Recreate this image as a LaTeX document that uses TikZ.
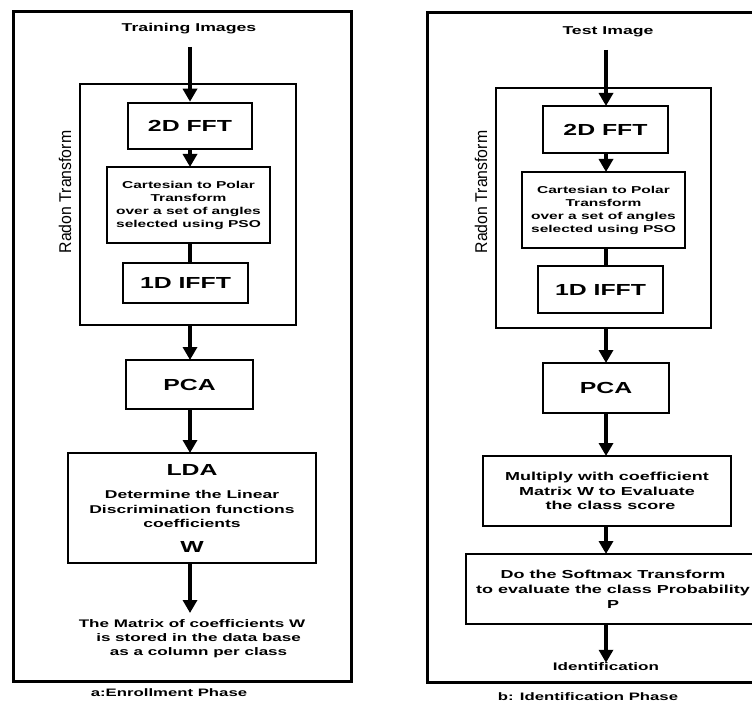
\documentclass[tikz,border=0pt]{standalone}
\usepackage{fontspec}
\setmainfont[FakeStretch=1.55]{Liberation Sans}
\newfontfamily\narrowfont[FakeStretch=0.93]{Liberation Sans}
\usetikzlibrary{arrows.meta}
\begin{document}
\begin{tikzpicture}[x=1pt,y=-1pt,
  frame/.style={draw,line width=3pt},
  box/.style={draw,line width=2.5pt,inner sep=0pt,align=center,font=\bfseries\fontsize{16}{18}\selectfont},
  thinbox/.style={draw,line width=1.5pt,inner sep=0pt,align=center,font=\bfseries\fontsize{10}{13}\selectfont},
  txtbox/.style={draw,line width=2.5pt,inner sep=0pt,align=center,font=\bfseries\fontsize{11.6}{14.8}\selectfont},
  lbl/.style={inner sep=0pt,align=center,font=\bfseries\fontsize{11}{14}\selectfont},
  radonlbl/.style={inner sep=0pt,rotate=90,font=\narrowfont\fontsize{17}{19}\selectfont},
  flow/.style={line width=4pt,-{Triangle[width=14pt,length=13pt]}},
  link/.style={line width=4pt}
]
\useasboundingbox (0,0) rectangle (752,703);
\fill[white] (0,0) rectangle (752,703);
% ---------------- Left panel ----------------
\node[frame,minimum width=338pt,minimum height=669pt,inner sep=0pt] (outerA) at (182,346.5) {};
\node[lbl,font=\bfseries\fontsize{11.4}{14}\selectfont] (trainimg) at (189,29) {Training Images};
\node[draw,line width=2.5pt,minimum width=216pt,minimum height=241pt,inner sep=0pt] (radonA) at (188,204.5) {};
\node[radonlbl] (radonlblA) at (65,192) {Radon Transform};
\node[box,minimum width=124pt,minimum height=46pt] (fftA) at (190,126) {2D FFT};
\node[thinbox,minimum width=163pt,minimum height=76pt] (cartA) at (188.5,205) {Cartesian to Polar\\Transform\\over a set of angles\\selected using PSO};
\node[box,minimum width=125pt,minimum height=40pt] (ifftA) at (185.5,283) {1D IFFT};
\node[box,minimum width=127pt,minimum height=49pt] (pcaA) at (189.5,384.5) {PCA};
\node[draw,line width=2.5pt,minimum width=248pt,minimum height=110pt,inner sep=0pt] (ldaA) at (192,508) {};
\node[inner sep=0pt,font=\bfseries\fontsize{16}{18}\selectfont] (ldatitle) at (192,470) {LDA};
\node[lbl,font=\bfseries\fontsize{11.3}{14.3}\selectfont] (ldabody) at (192,509) {Determine the Linear\\Discrimination functions\\coefficients};
\node[inner sep=0pt,font=\bfseries\fontsize{16}{18}\selectfont] (ldaw) at (192,547) {W};
\node[lbl] (storeA) at (192,639) {The Matrix of coefficients W\\\hspace*{1.2em}is stored in the data base\\\hspace*{1.2em}as a column per class};
\coordinate (endA) at (190,613);
\node[lbl,font=\bfseries\fontsize{10.8}{12}\selectfont] (capA) at (169,693) {a:Enrollment Phase};
% connectors left
\coordinate (startA) at (190,47);
\draw[flow] (startA) -- (startA |- fftA.north);
\draw[flow] (190,149) -- (190,167);
\draw[link] (190,243) -- (190,263);
\draw[flow] (190,325) -- (190,360);
\draw[flow] (190,409) -- (190,453);
\draw[flow] (190,563) -- (endA);
% ---------------- Right panel ----------------
\node[frame,minimum width=343pt,minimum height=669pt,inner sep=0pt] (outerB) at (598.5,347.5) {};
\node[lbl,font=\bfseries\fontsize{11.4}{14}\selectfont] (testimg) at (608,32) {Test Image};
\node[draw,line width=2.5pt,minimum width=215pt,minimum height=240pt,inner sep=0pt] (radonB) at (603.5,208) {};
\node[radonlbl] (radonlblB) at (481,192) {Radon Transform};
\node[box,minimum width=125pt,minimum height=47pt] (fftB) at (605.5,129.5) {2D FFT};
\node[thinbox,minimum width=163pt,minimum height=76pt] (cartB) at (603.5,210) {Cartesian to Polar\\Transform\\over a set of angles\\selected using PSO};
\node[box,minimum width=125pt,minimum height=47pt] (ifftB) at (600.5,289.5) {1D IFFT};
\node[box,minimum width=126pt,minimum height=50pt] (pcaB) at (606,388) {PCA};
\node[txtbox,minimum width=248pt,minimum height=70pt] (multB) at (607,491) {Multiply with coefficient\\Matrix W to Evaluate\\\hspace*{0.6em}the class score};
\node[txtbox,minimum width=294pt,minimum height=70pt] (softB) at (613,589) {Do the Softmax Transform\\to evaluate the class Probability\\P};
\node[lbl] (identB) at (606,667) {Identification};
\node[lbl,font=\bfseries\fontsize{10.8}{12}\selectfont] (capB) at (588,697) {b: Identification Phase};
% connectors right
\coordinate (startB) at (606,50);
\draw[flow] (startB) -- (606,106);
\draw[flow] (606,153) -- (606,172);
\draw[link] (606,248) -- (606,266);
\draw[flow] (606,328) -- (606,363);
\draw[flow] (606,413) -- (606,456);
\draw[flow] (606,526) -- (606,554);
\draw[flow] (606,624) -- (identB.north);
\end{tikzpicture}
\end{document}
